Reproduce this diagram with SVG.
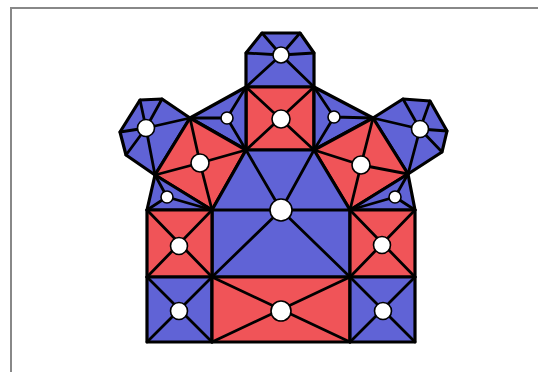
<svg xmlns="http://www.w3.org/2000/svg" width="538" height="372" viewBox="0 0 538 372">
<style>
.b{fill:#6063d6;stroke:#000;stroke-width:3.2;stroke-linejoin:round}
.r{fill:#f05458;stroke:#000;stroke-width:3.2;stroke-linejoin:round}
.s{stroke:#000;stroke-width:2.8;fill:none;stroke-linecap:round}
.c{fill:#fff;stroke:#000;stroke-width:1.6}
</style>
<rect x="0" y="0" width="538" height="372" fill="#fff"/>
<path d="M11 372 V8 H538" fill="none" stroke="#888" stroke-width="2"/>
<g id="top-blue">
<polygon class="b" points="246,87 246,53 262,33 300,33 314,53 314,87"/>
<path class="s" d="M281,55 L246,87 M281,55 L246,53 M281,55 L262,33 M281,55 L300,33 M281,55 L314,53 M281,55 L314,87"/>
<circle class="c" cx="281" cy="55" r="8"/>
</g>
<g id="top-red">
<polygon class="r" points="246,87 314,87 314,150 246,150"/>
<path class="s" d="M246,87 L314,150 M314,87 L246,150"/>
<circle class="c" cx="281" cy="119" r="9"/>
</g>
<g id="upper-left-tri">
<polygon class="b" points="246,87 190,118 246,150"/>
<path class="s" d="M227,118 L246,87 M227,118 L190,118 M227,118 L246,150"/>
<circle class="c" cx="227" cy="118" r="6"/>
</g>
<g id="upper-right-tri">
<polygon class="b" points="314,87 373,118 314,150"/>
<path class="s" d="M334,117 L314,87 M334,117 L373,118 M334,117 L314,150"/>
<circle class="c" cx="334" cy="117" r="6"/>
</g>
<g id="left-flower">
<polygon class="b" points="140,100 162,99 190,118 155,175 126,155 120,132"/>
<path class="s" d="M146,128 L140,100 M146,128 L162,99 M146,128 L190,118 M146,128 L155,175 M146,128 L126,155 M146,128 L120,132"/>
<circle class="c" cx="146" cy="128" r="8.5"/>
</g>
<g id="right-flower">
<polygon class="b" points="403,99 430,101 447,131 442,152 408,174 373,118"/>
<path class="s" d="M420,129 L403,99 M420,129 L430,101 M420,129 L447,131 M420,129 L442,152 M420,129 L408,174 M420,129 L373,118"/>
<circle class="c" cx="420" cy="129" r="8.5"/>
</g>
<g id="left-kite">
<polygon class="r" points="190,118 246,150 212,210 155,175"/>
<path class="s" d="M200,163 L190,118 M200,163 L246,150 M200,163 L212,210 M200,163 L155,175"/>
<circle class="c" cx="200" cy="163" r="9"/>
</g>
<g id="right-kite">
<polygon class="r" points="373,118 408,174 350,210 314,150"/>
<path class="s" d="M361,165 L373,118 M361,165 L408,174 M361,165 L350,210 M361,165 L314,150"/>
<circle class="c" cx="361" cy="165" r="9"/>
</g>
<g id="left-small">
<polygon class="b" points="155,175 212,210 147,210"/>
<path class="s" d="M167,197 L155,175 M167,197 L212,210 M167,197 L147,210"/>
<circle class="c" cx="167" cy="197" r="6"/>
</g>
<g id="right-small">
<polygon class="b" points="408,174 415,210 350,210"/>
<path class="s" d="M395,197 L408,174 M395,197 L415,210 M395,197 L350,210"/>
<circle class="c" cx="395" cy="197" r="6"/>
</g>
<g id="center">
<polygon class="b" points="246,150 314,150 350,210 350,277 212,277 212,210"/>
<path class="s" d="M281,210 L246,150 M281,210 L314,150 M212,210 L350,210 M281,210 L212,277 M281,210 L350,277"/>
<circle class="c" cx="281" cy="210" r="11"/>
</g>
<g id="mid-left">
<polygon class="r" points="147,210 212,210 212,277 147,277"/>
<path class="s" d="M147,210 L212,277 M212,210 L147,277"/>
<circle class="c" cx="179" cy="246" r="8.5"/>
</g>
<g id="mid-right">
<polygon class="r" points="350,210 415,210 415,277 350,277"/>
<path class="s" d="M350,210 L415,277 M415,210 L350,277"/>
<circle class="c" cx="382" cy="245" r="8.5"/>
</g>
<g id="bottom-left">
<polygon class="b" points="147,277 212,277 212,342 147,342"/>
<path class="s" d="M147,277 L212,342 M212,277 L147,342"/>
<circle class="c" cx="179" cy="311" r="8.5"/>
</g>
<g id="bottom-mid">
<polygon class="r" points="212,277 350,277 350,342 212,342"/>
<path class="s" d="M212,277 L350,342 M350,277 L212,342"/>
<circle class="c" cx="281" cy="311" r="10"/>
</g>
<g id="bottom-right">
<polygon class="b" points="350,277 415,277 415,342 350,342"/>
<path class="s" d="M350,277 L415,342 M415,277 L350,342"/>
<circle class="c" cx="383" cy="311" r="8.5"/>
</g>
</svg>
